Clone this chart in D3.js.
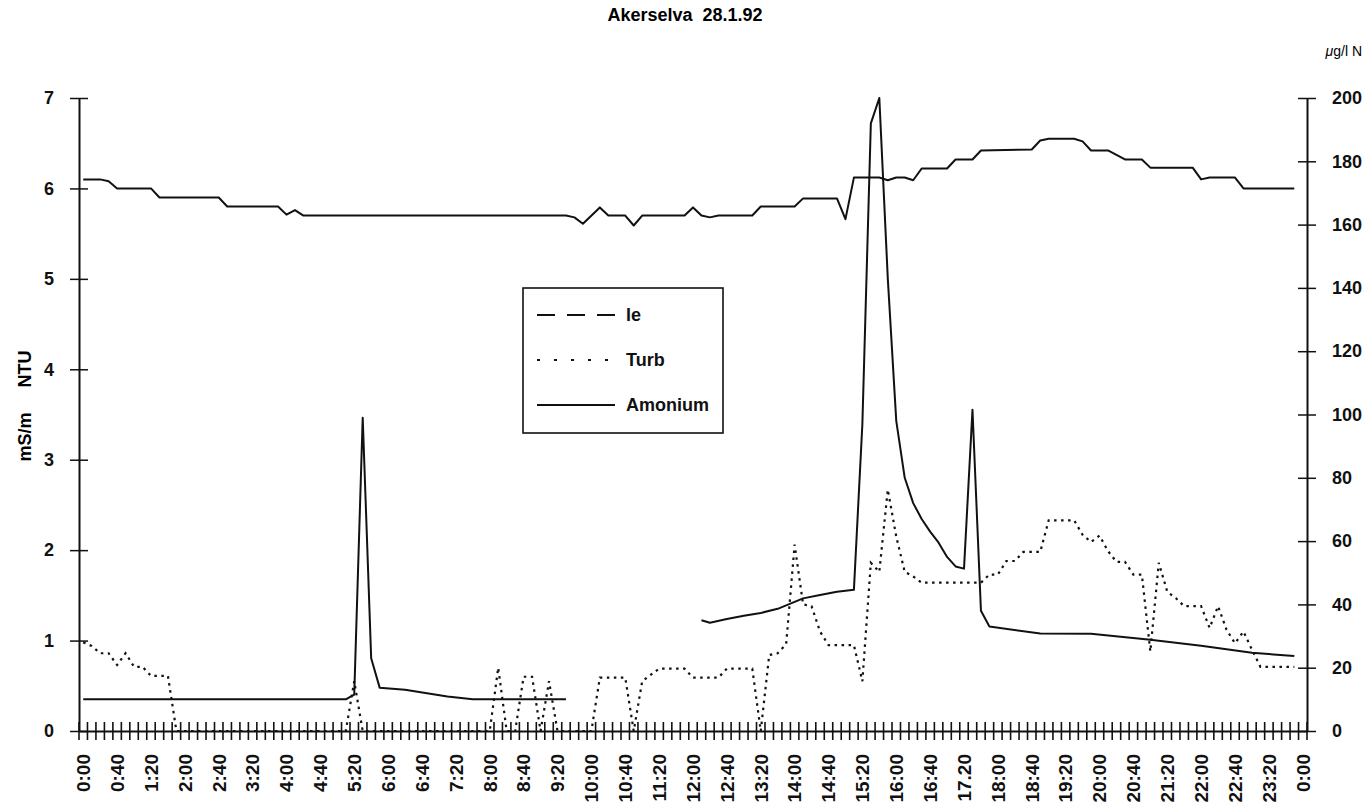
<!DOCTYPE html>
<html>
<head>
<meta charset="utf-8">
<script src="https://cdn.jsdelivr.net/npm/d3@7"></script>
<style>
  body { margin: 0; background: #fff; }
  svg { font-family: "Liberation Sans", Arial, sans-serif; }
</style>
</head>
<body>
<svg id="chart" width="1370" height="802"></svg>
<script>
// 10-minute categories 0:00 .. 24:00 (145 slots), a label every 4th slot
const slotCount = 145;
const tickLabels = ["0:00","0:40","1:20","2:00","2:40","3:20","4:00","4:40","5:20","6:00",
  "6:40","7:20","8:00","8:40","9:20","10:00","10:40","11:20","12:00","12:40","13:20",
  "14:00","14:40","15:20","16:00","16:40","17.20","18:00","18:40","19:20","20:00",
  "20:40","21:20","22:00","22:40","23:20","0:00"];
const leftTicks = [0, 1, 2, 3, 4, 5, 6, 7];
const rightTicks = [0, 20, 40, 60, 80, 100, 120, 140, 160, 180, 200];

// le (mS/m, left axis)
const leData = [
  ["0:00",6.1],["0:20",6.1],["0:30",6.08],["0:40",6.0],["1:20",6.0],["1:30",5.9],
  ["2:40",5.9],["2:50",5.8],["3:50",5.8],["4:00",5.71],["4:10",5.76],["4:20",5.7],
  ["9:30",5.7],["9:40",5.68],["9:50",5.61],["10:10",5.79],["10:20",5.7],["10:40",5.7],
  ["10:50",5.59],["11:00",5.7],["11:50",5.7],["12:00",5.79],["12:10",5.7],["12:20",5.68],
  ["12:30",5.7],["13:10",5.7],["13:20",5.8],["14:00",5.8],["14:10",5.89],["14:50",5.89],
  ["15:00",5.66],["15:10",6.12],["15:40",6.12],["15:50",6.09],["16:00",6.12],["16:10",6.12],
  ["16:20",6.09],["16:30",6.22],["17:00",6.22],["17:10",6.32],["17:30",6.32],["17:40",6.42],
  ["18:40",6.43],["18:50",6.53],["19:00",6.55],["19:30",6.55],["19:40",6.52],["19:50",6.42],
  ["20:10",6.42],["20:20",6.37],["20:30",6.32],["20:50",6.32],["21:00",6.23],["21:50",6.23],
  ["22:00",6.1],["22:10",6.12],["22:40",6.12],["22:50",6.0],["23:50",6.0]
];

// Turb (NTU, left axis)
const turbData = [
  ["0:00",0.98],["0:10",0.94],["0:20",0.86],["0:30",0.86],["0:40",0.73],["0:50",0.86],
  ["1:00",0.71],["1:10",0.71],["1:20",0.61],["1:40",0.61],["1:50",0],["5:10",0],
  ["5:20",0.55],["5:30",0],["8:00",0],["8:10",0.7],["8:20",0],["8:30",0],["8:40",0.6],
  ["8:50",0.6],["9:00",0],["9:10",0.55],["9:20",0],["10:00",0],["10:10",0.59],["10:40",0.59],
  ["10:50",0],["11:00",0.55],["11:10",0.62],["11:20",0.69],["11:50",0.69],["12:00",0.59],
  ["12:30",0.59],["12:40",0.69],["13:10",0.69],["13:20",0],["13:30",0.84],["13:40",0.86],
  ["13:50",0.96],["14:00",2.06],["14:10",1.4],["14:20",1.38],["14:30",1.1],["14:40",0.95],
  ["15:10",0.95],["15:20",0.55],["15:30",1.86],["15:40",1.76],["15:50",2.67],["16:00",2.15],
  ["16:10",1.76],["16:20",1.71],["16:30",1.64],["17:40",1.64],["17:50",1.73],["18:00",1.73],
  ["18:10",1.88],["18:20",1.88],["18:30",1.98],["18:50",1.98],["19:00",2.33],["19:30",2.33],
  ["19:40",2.17],["19:50",2.09],["20:00",2.16],["20:10",1.99],["20:20",1.87],["20:30",1.87],
  ["20:40",1.73],["20:50",1.73],["21:00",0.88],["21:10",1.86],["21:20",1.54],["21:30",1.47],
  ["21:40",1.38],["22:00",1.38],["22:10",1.14],["22:20",1.38],["22:30",1.12],["22:40",0.97],
  ["22:50",1.1],["23:00",0.9],["23:10",0.71],["23:50",0.71]
];

// Amonium (µg/l N, right axis), two measured stretches
const amoniumMorning = [
  ["0:00",10],["5:10",10],["5:20",11.5],["5:30",99],["5:40",23],["5:50",13.7],
  ["6:20",13],["7:10",10.9],["7:40",10],["9:30",10]
];
const amoniumDay = [
  ["12:10",35],["12:20",34.2],["12:40",35.4],["13:00",36.4],["13:20",37.3],["13:40",38.6],
  ["14:00",40.8],["14:10",41.9],["14:30",43],["14:50",44],["15:10",44.6],["15:20",97],
  ["15:30",192],["15:40",200],["15:50",143],["16:00",98],["16:10",80],["16:20",72],
  ["16:30",67],["16:40",63],["16:50",59.5],["17:00",55],["17:10",52],["17:20",51.3],
  ["17:30",101.5],["17:40",38],["17:50",33],["18:50",30.8],["19:50",30.7],["21:00",28.8],
  ["22:00",26.9],["23:00",24.7],["23:50",23.7]
];

const svg = d3.select("#chart");
const plotLeft = 79, plotRight = 1307, plotTop = 98, plotBottom = 731;
const ink = "#111";

const slotOf = t => {
  const [h, m] = t.split(":").map(Number);
  return (h * 60 + m) / 10;
};

const x = d3.scaleBand().domain(d3.range(slotCount)).range([plotLeft, plotRight]);
const cx = i => x(i) + x.bandwidth() / 2;
const yL = d3.scaleLinear().domain([0, 7]).range([plotBottom, plotTop]);
const yR = d3.scaleLinear().domain([0, 200]).range([plotBottom, plotTop]);

// title and units
svg.append("text")
  .attr("x", 685).attr("y", 21)
  .attr("text-anchor", "middle")
  .attr("font-size", 18).attr("font-weight", "bold")
  .style("white-space", "pre")
  .text("Akerselva  28.1.92");

const unit = svg.append("text")
  .attr("x", 1362).attr("y", 56)
  .attr("text-anchor", "end")
  .attr("font-size", 14);
unit.append("tspan").attr("font-style", "italic").text("\u03bc");
unit.append("tspan").text("g/l N");

svg.append("text")
  .attr("transform", "translate(31,406) rotate(-90)")
  .attr("text-anchor", "middle")
  .attr("font-size", 18).attr("font-weight", "bold")
  .style("white-space", "pre")
  .text("mS/m     NTU");

// left axis
svg.append("g")
  .attr("transform", `translate(${plotLeft},0)`)
  .call(d3.axisLeft(yL).tickValues(leftTicks).tickFormat(d3.format("d"))
    .tickSize(9).tickPadding(16).tickSizeOuter(0))
  .call(g => g.select(".domain").attr("stroke", ink).attr("stroke-width", 2))
  .call(g => g.selectAll(".tick line").attr("x2", -9).attr("x1", 9)
    .attr("stroke", ink).attr("stroke-width", 1.5))
  .call(g => g.selectAll(".tick text").attr("fill", ink)
    .attr("font-size", 18).attr("font-weight", "bold")
    .attr("font-family", "Liberation Sans, Arial, sans-serif"));

// right axis
svg.append("g")
  .attr("transform", `translate(${plotRight},0)`)
  .call(d3.axisRight(yR).tickValues(rightTicks).tickFormat(d3.format("d"))
    .tickSize(9).tickPadding(16).tickSizeOuter(0))
  .call(g => g.select(".domain").attr("stroke", ink).attr("stroke-width", 2))
  .call(g => g.selectAll(".tick line").attr("x1", -9).attr("x2", 9)
    .attr("stroke", ink).attr("stroke-width", 1.5))
  .call(g => g.selectAll(".tick text").attr("fill", ink)
    .attr("font-size", 18).attr("font-weight", "bold")
    .attr("font-family", "Liberation Sans, Arial, sans-serif"));

// bottom axis: labels at every 4th category, crossing ticks between categories
const labelSlots = tickLabels.map((d, i) => i * 4);
svg.append("g")
  .attr("transform", `translate(0,${plotBottom})`)
  .call(d3.axisBottom(x).tickValues(labelSlots).tickSize(0)
    .tickFormat(i => tickLabels[i / 4]))
  .call(g => g.select(".domain").attr("stroke", ink).attr("stroke-width", 2))
  .call(g => g.selectAll(".tick text")
    .attr("transform", "rotate(-90)")
    .attr("text-anchor", "end")
    .attr("x", -23).attr("y", 0).attr("dy", "0.36em")
    .attr("fill", ink)
    .attr("font-size", 19).attr("font-weight", "bold")
    .attr("font-family", "Liberation Sans, Arial, sans-serif"));

svg.append("g")
  .selectAll("line")
  .data(d3.range(slotCount + 1))
  .join("line")
  .attr("x1", i => (i < slotCount ? x(i) : plotRight))
  .attr("x2", i => (i < slotCount ? x(i) : plotRight))
  .attr("y1", plotBottom - 9).attr("y2", plotBottom + 9)
  .attr("stroke", ink).attr("stroke-width", 1.6);

// series
const lineL = d3.line().x(d => cx(slotOf(d[0]))).y(d => yL(d[1]));
const lineR = d3.line().x(d => cx(slotOf(d[0]))).y(d => yR(d[1]));

svg.append("path").datum(turbData)
  .attr("d", lineL).attr("fill", "none")
  .attr("stroke", ink).attr("stroke-width", 2.2)
  .attr("stroke-dasharray", "2.5,4.5");

svg.append("path").datum(leData)
  .attr("d", lineL).attr("fill", "none")
  .attr("stroke", ink).attr("stroke-width", 2)
  .attr("stroke-linejoin", "round");

[amoniumMorning, amoniumDay].forEach(seg => {
  svg.append("path").datum(seg)
    .attr("d", lineR).attr("fill", "none")
    .attr("stroke", ink).attr("stroke-width", 2)
    .attr("stroke-linejoin", "round");
});

// legend
const legend = svg.append("g").attr("transform", "translate(523,288)");
legend.append("rect")
  .attr("width", 200).attr("height", 145)
  .attr("fill", "#fff").attr("stroke", ink).attr("stroke-width", 1.6);

const legendItems = [
  { name: "le", dash: "18,12", y: 27 },
  { name: "Turb", dash: "3,14", y: 72 },
  { name: "Amonium", dash: null, y: 117 }
];
legendItems.forEach(item => {
  legend.append("line")
    .attr("x1", 14).attr("x2", 92)
    .attr("y1", item.y).attr("y2", item.y)
    .attr("stroke", ink).attr("stroke-width", 1.8)
    .attr("stroke-dasharray", item.dash);
  legend.append("text")
    .attr("x", 103).attr("y", item.y).attr("dy", "0.36em")
    .attr("font-size", 18).attr("font-weight", "bold")
    .attr("fill", ink)
    .text(item.name);
});
</script>
</body>
</html>
